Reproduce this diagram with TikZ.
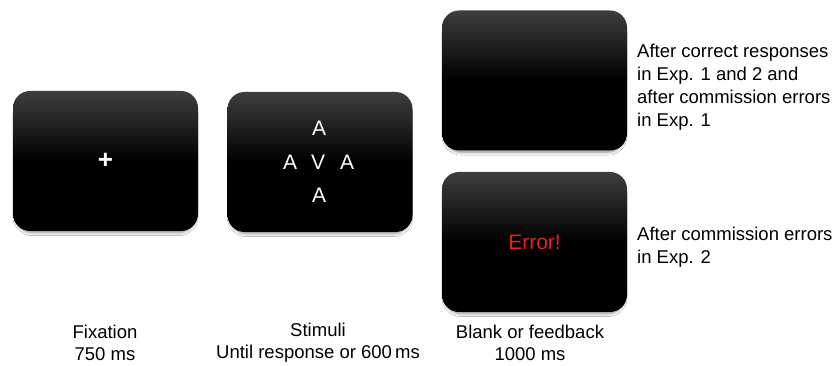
\documentclass[tikz,border=0pt]{standalone}
\usepackage{fontspec}
\setmainfont{Liberation Sans}
\usepackage{tikz}
\usetikzlibrary{shadows.blur}

\tikzset{
  screen/.style={rounded corners=17pt, minimum width=185pt, minimum height=140pt, inner sep=0pt,
    top color=topColor, bottom color=black, middle color=black,
    blur shadow={shadow xshift=0pt, shadow yshift=-4pt, shadow scale=0.97, shadow blur radius=3pt, shadow opacity=45},
    text=white, font=\fontsize{21}{25}\selectfont},
  letter/.style={text=white, inner sep=0pt, font=\fontsize{21}{25}\selectfont},
  capt/.style={align=center, inner sep=0pt, font=\fontsize{18.5}{22}\selectfont},
  note/.style={align=left, anchor=west, inner sep=0pt, font=\fontsize{18.5}{23}\selectfont}
}

\begin{document}
\begin{tikzpicture}[x=1pt,y=1pt]
\definecolor{fillColor}{RGB}{255,255,255}
\definecolor{topColor}{RGB}{62,62,62}
\definecolor{errColor}{RGB}{228,32,32}
\path[use as bounding box,fill=fillColor] (0,0) rectangle (834,366);

\node[screen,font=\bfseries\fontsize{26}{30}\selectfont] (fixbox) at (105.5,205) {+};
\node[screen] (stimbox) at (320,204) {};
\node[screen] (blankbox) at (534.5,285.5) {};
\node[screen,text=errColor] (errbox) at (534.5,124) {Error!};

\node[letter] (stimTop) at (319,238) {A};
\node[letter] (stimL) at (290,204) {A};
\node[letter] (stimC) at (318,204) {V};
\node[letter] (stimR) at (347,204) {A};
\node[letter] (stimBot) at (319,171) {A};

\node[note] (blankNote) at (637,278.5) {After correct responses\\in Exp. 1 and 2 and\\after commission errors\\in Exp. 1};
\node[note] (errNote) at (637,119) {After commission errors\\in Exp. 2};

\node[capt] (fixCapt) at (105,23) {Fixation\\750 ms};
\node[capt] (stimCapt) at (318,23) {Stimuli\\Until response or 600\,ms};
\node[capt] (blankCapt) at (530,23) {Blank or feedback\\1000 ms};
\end{tikzpicture}
\end{document}
